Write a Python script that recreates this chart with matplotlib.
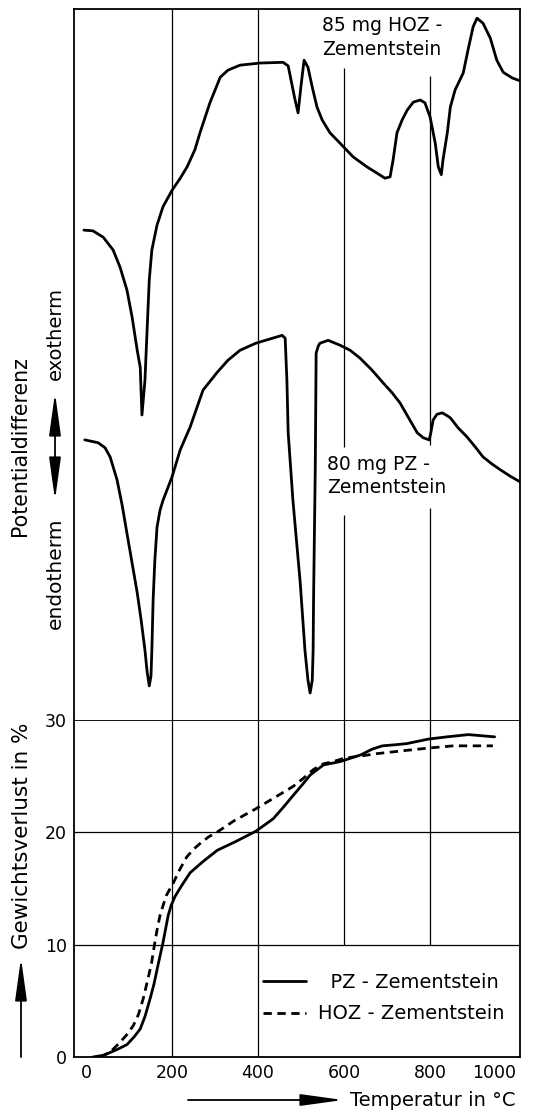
import numpy as np
import matplotlib
matplotlib.use('Agg')
import matplotlib.pyplot as plt
from matplotlib.patches import FancyArrowPatch

################################################################################
# Data
################################################################################

# DTA curves, temperature in degC, signal in arbitrary units (0..100)
hoz_dta_T = [-5, 16, 40, 63, 79, 95, 107, 119, 126, 130, 137, 142, 147, 153,
             165, 179, 200, 219, 235, 253, 265, 288, 312, 330, 358, 405, 458,
             470, 479, 486, 493, 500, 507, 516, 526, 537, 549, 567, 591, 621,
             653, 677, 695, 707, 714, 723, 735, 747, 761, 777, 788, 800, 812,
             819, 826, 830, 840, 847, 858, 877, 888, 900, 909, 923, 940, 955,
             970, 991, 1009]
hoz_dta_v = [68.9, 68.8, 67.9, 66.1, 63.7, 60.5, 56.7, 52.0, 49.6, 42.9, 47.8,
             54.9, 61.9, 66.1, 69.6, 72.2, 74.5, 76.2, 77.8, 80.2, 82.6, 86.8,
             90.4, 91.4, 92.1, 92.4, 92.5, 92.0, 89.3, 87.2, 85.4, 89.3, 92.8,
             91.8, 89.0, 86.2, 84.4, 82.6, 81.1, 79.2, 77.8, 76.9, 76.2, 76.4,
             78.8, 82.6, 84.4, 85.8, 86.9, 87.2, 86.8, 84.8, 81.1, 77.8, 76.7,
             78.8, 82.6, 86.2, 88.6, 91.0, 94.2, 97.5, 98.7, 98.0, 95.9, 92.8,
             91.1, 90.3, 89.9]

pz_dta_T = [-3, 28, 44, 56, 65, 72, 84, 95, 107, 119, 128, 137, 142, 147, 151,
            153, 156, 160, 165, 172, 179, 200, 219, 242, 272, 305, 330, 358,
            395, 456, 463, 467, 470, 481, 498, 509, 516, 521, 526, 528, 529,
            533, 535, 540, 544, 563, 591, 614, 637, 665, 691, 712, 730, 749,
            770, 784, 798, 802, 807, 816, 828, 837, 847, 865, 886, 905, 923,
            944, 963, 986, 1009]
pz_dta_v = [39.4, 39.0, 38.3, 37.0, 35.2, 33.8, 30.2, 26.3, 22.1, 17.9, 14.1,
            9.8, 6.8, 4.8, 6.2, 9.8, 16.9, 22.5, 27.1, 29.5, 30.9, 34.2, 38.0,
            41.2, 46.4, 48.9, 50.6, 52.0, 53.0, 54.1, 53.7, 47.8, 40.4, 30.9,
            19.3, 9.8, 5.6, 3.8, 5.6, 9.8, 16.9, 35.6, 51.6, 52.6, 53.0, 53.4,
            52.7, 52.0, 50.9, 49.2, 47.4, 46.0, 44.6, 42.6, 40.4, 39.7, 39.4,
            40.5, 42.2, 43.0, 43.2, 42.9, 42.5, 41.1, 39.8, 38.4, 37.0, 36.0,
            35.2, 34.3, 33.5]

# weight loss in %
pz_tg_T = [16, 40, 56, 74, 95, 112, 126, 137, 149, 158, 168, 179, 186, 191,
           198, 207, 223, 242, 272, 305, 349, 395, 435, 458, 482, 502, 521,
           552, 591, 639, 665, 689, 720, 746, 796, 839, 889, 950]
pz_tg_v = [0, 0.15, 0.4, 0.7, 1.1, 1.8, 2.5, 3.6, 5.2, 6.5, 8.3, 10.2, 11.6,
           12.6, 13.5, 14.3, 15.3, 16.4, 17.4, 18.4, 19.2, 20.1, 21.2, 22.2,
           23.3, 24.2, 25.1, 26.0, 26.3, 26.9, 27.4, 27.7, 27.8, 27.9, 28.3,
           28.5, 28.7, 28.5]

hoz_tg_T = [33, 55, 79, 95, 110, 122, 133, 143, 152, 160, 166, 172, 180, 187,
            203, 218, 234, 250, 265, 285, 304, 343, 395, 443, 482, 505, 529,
            552, 575, 600, 640, 675, 746, 796, 854, 946]
hoz_tg_v = [0, 0.4, 1.3, 2.0, 2.8, 3.8, 5.2, 6.8, 8.3, 10.2, 11.5, 12.6, 13.6,
            14.4, 15.5, 16.7, 17.8, 18.5, 19.0, 19.6, 20.0, 21.0, 22.1, 23.2,
            24.1, 24.8, 25.6, 26.1, 26.3, 26.6, 26.8, 27.0, 27.3, 27.5, 27.7,
            27.7]

x_ticks = [0, 200, 400, 600, 800, 1000]
y_ticks = [0, 10, 20, 30]

################################################################################
# Figure
################################################################################

W, H = 537, 1119
fig = plt.figure(figsize=(W / 100, H / 100), dpi=100)

left, right = 74 / W, 520 / W
bottom, mid, top = 1 - 1057 / H, 1 - 720 / H, 1 - 9 / H

ax_tg = fig.add_axes([left, bottom, right - left, mid - bottom])
ax_dta = fig.add_axes([left, mid, right - left, top - mid], sharex=ax_tg)

grid_kw = dict(color='black', lw=0.9, zorder=1)
line_kw = dict(color='black', lw=2.0, zorder=3, solid_joinstyle='round',
               solid_capstyle='round')

# lower panel: weight loss
ax_tg.set_xlim(-28, 1009)
ax_tg.set_ylim(0, 30)
ax_tg.hlines([10, 20], -28, 1009, **grid_kw)
ax_tg.vlines([200, 400], 0, 30, **grid_kw)
ax_tg.vlines([600, 800], 10, 30, **grid_kw)

ax_tg.plot(pz_tg_T, pz_tg_v, label='  PZ - Zementstein', **line_kw)
ax_tg.plot(hoz_tg_T, hoz_tg_v, ls=(0, (3, 2)), label='HOZ - Zementstein',
           **line_kw)

ax_tg.set_xticks(x_ticks)
ax_tg.set_yticks(y_ticks)
ax_tg.tick_params(length=0, labelsize=12.5, pad=5)
ax_tg.get_xticklabels()[-1].set_ha('right')

ax_tg.legend(loc='upper left', bbox_to_anchor=(0.424, 0.25),
             frameon=False, fontsize=14, handlelength=2.2,
             handletextpad=0.6, labelspacing=0.65, borderpad=0,
             borderaxespad=0)

# upper panel: DTA
ax_dta.set_ylim(0, 100)
ax_dta.vlines([200, 400], 0, 100, **grid_kw)
ax_dta.vlines([600, 600], [0, 38.4], [28.8, 91.7], **grid_kw)
ax_dta.vlines([800, 800], [0, 38.7], [29.8, 90.6], **grid_kw)

ax_dta.plot(hoz_dta_T, hoz_dta_v, **line_kw)
ax_dta.plot(pz_dta_T, pz_dta_v, **line_kw)

ax_dta.text(549, 99.0, '85 mg HOZ -\nZementstein', fontsize=13.5,
            va='top', ha='left', linespacing=1.3)
ax_dta.text(560, 37.3, '80 mg PZ -\nZementstein', fontsize=13.5,
            va='top', ha='left', linespacing=1.3)

ax_dta.set_yticks([])
ax_dta.tick_params(labelbottom=False, length=0)
ax_dta.spines['bottom'].set_visible(False)

for ax in (ax_tg, ax_dta):
    for s in ax.spines.values():
        s.set_linewidth(1.3)

# axis labels with arrows, in figure coordinates
def fx(px):
    return px / W

def fy(py):
    return 1 - py / H

head = 'head_length=1.3,head_width=0.18'
arrow = dict(arrowstyle='-|>,' + head, lw=1.3, color='black',
             mutation_scale=20, shrinkA=0, shrinkB=0)
darrow = dict(arrowstyle='<|-|>,' + head, lw=1.3, color='black',
              mutation_scale=20, shrinkA=0, shrinkB=0)

fig.text(fx(22), fy(836), 'Gewichtsverlust in %', rotation=90,
         ha='center', va='center', fontsize=15.5)
fig.add_artist(FancyArrowPatch((fx(21), fy(1057)), (fx(21), fy(958)),
                               transform=fig.transFigure, **arrow))

fig.text(fx(350), fy(1100), 'Temperatur in °C', ha='left', va='center',
         fontsize=14)
fig.add_artist(FancyArrowPatch((fx(188), fy(1100)), (fx(343), fy(1100)),
                               transform=fig.transFigure, **arrow))

fig.text(fx(20), fy(446), 'Potentialdifferenz', rotation=90,
         ha='center', va='center', fontsize=14.8)
fig.text(fx(55), fy(333), 'exotherm', rotation=90,
         ha='center', va='center', fontsize=14)
fig.text(fx(55), fy(573), 'endotherm', rotation=90,
         ha='center', va='center', fontsize=14.5)
fig.add_artist(FancyArrowPatch((fx(55), fy(500)), (fx(55), fy(393)),
                               transform=fig.transFigure, **darrow))

fig.savefig('out.png', dpi=100)
